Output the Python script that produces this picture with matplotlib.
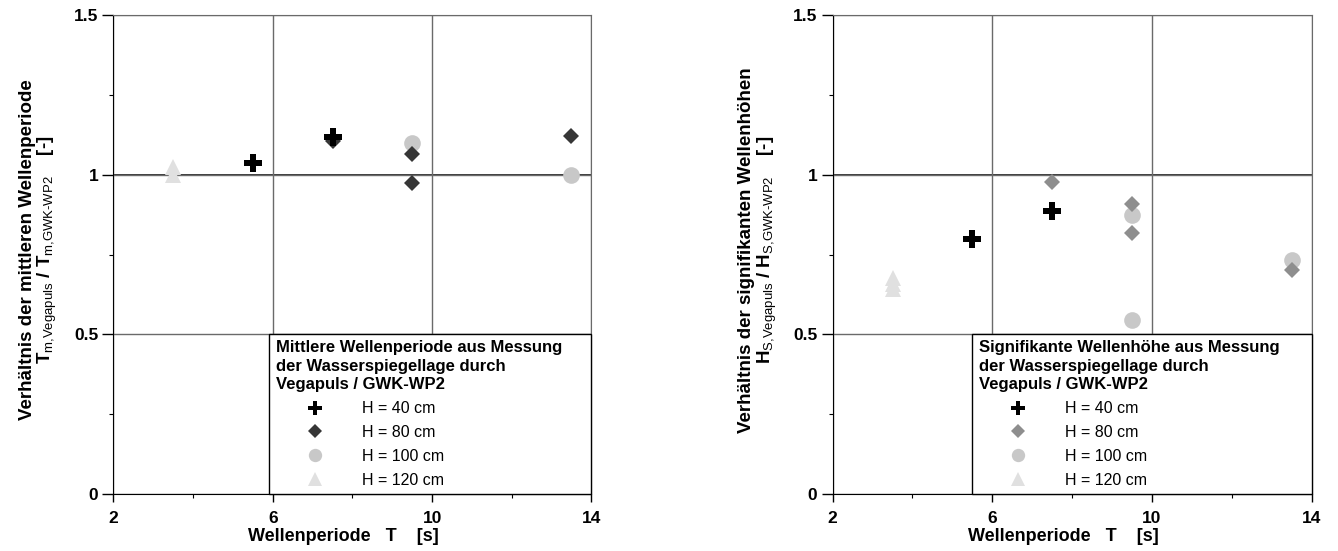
import matplotlib
matplotlib.use("Agg")
import matplotlib.pyplot as plt
from matplotlib.ticker import FixedLocator, FuncFormatter

plt.rcParams['font.family'] = ['Liberation Sans', 'DejaVu Sans']
plt.rcParams['mathtext.fontset'] = 'custom'
plt.rcParams['mathtext.rm'] = 'Liberation Sans'
plt.rcParams['mathtext.bf'] = 'Liberation Sans:bold'
plt.rcParams['mathtext.it'] = 'Liberation Sans:italic'

# ---------------- data ----------------
series_labels = ["H = 40 cm", "H = 80 cm", "H = 100 cm", "H = 120 cm"]

# left: mean wave period ratio
tm_h40_T = [5.5, 7.5]
tm_h40_r = [1.035, 1.118]
tm_h80_T = [7.5, 9.5, 9.5, 13.5]
tm_h80_r = [1.104, 1.066, 0.974, 1.122]
tm_h100_T = [9.5, 13.5]
tm_h100_r = [1.099, 0.998]
tm_h120_T = [3.5, 3.5]
tm_h120_r = [1.0, 1.025]

# right: significant wave height ratio
hs_h40_T = [5.5, 7.5]
hs_h40_r = [0.799, 0.887]
hs_h80_T = [7.5, 9.5, 9.5, 13.5]
hs_h80_r = [0.978, 0.908, 0.816, 0.703]
hs_h100_T = [9.5, 9.5, 13.5]
hs_h100_r = [0.875, 0.544, 0.734]
hs_h120_T = [3.5, 3.5, 3.5]
hs_h120_r = [0.641, 0.659, 0.677]

x_major = [2, 6, 10, 14]
x_minor = [4, 8, 12]
y_major = [0, 0.5, 1, 1.5]
y_minor = [0.25, 0.75, 1.25]

fig = plt.figure(figsize=(13.38, 5.51), dpi=100)
axL = fig.add_axes([0.0848, 0.1034, 0.3572, 0.8694])
axR = fig.add_axes([0.6223, 0.1034, 0.3580, 0.8694])

GRID = '#6a6a6a'


def style(ax, ylabel, title, legend_x0, dia_color, data):
    (t40, r40), (t80, r80), (t100, r100), (t120, r120) = data
    ax.set_xlim(2, 14)
    ax.set_ylim(0, 1.5)
    ax.xaxis.set_major_locator(FixedLocator(x_major))
    ax.xaxis.set_minor_locator(FixedLocator(x_minor))
    ax.yaxis.set_major_locator(FixedLocator(y_major))
    ax.yaxis.set_minor_locator(FixedLocator(y_minor))
    ax.yaxis.set_major_formatter(FuncFormatter(lambda v, p: f"{v:g}"))
    ax.xaxis.set_major_formatter(FuncFormatter(lambda v, p: f"{v:g}"))
    ax.tick_params(axis='both', which='major', direction='out', labelsize=12.5,
                   width=1.0, color='black')
    ax.tick_params(axis='x', which='major', length=6, pad=6.5)
    ax.tick_params(axis='y', which='major', length=8, pad=3)
    ax.tick_params(axis='both', which='minor', direction='out', length=3,
                   width=0.8, color='black')
    for lab in ax.get_xticklabels() + ax.get_yticklabels():
        lab.set_fontweight('bold')
    ax.grid(True, which='major', color=GRID, linewidth=1.0, zorder=0)
    ax.axhline(1.0, color='black', linewidth=1.1, zorder=0.5)
    for s in ['top', 'right']:
        ax.spines[s].set_color(GRID)
    ax.spines['left'].set_color('black')
    ax.spines['bottom'].set_color('black')
    ax.set_axisbelow(True)

    h1, = ax.plot(t40, r40, linestyle='none', marker='P', ms=12.5,
                  mfc='black', mec='black', mew=0, zorder=5)
    h2, = ax.plot(t80, r80, linestyle='none', marker='D', ms=8.6,
                  mfc=dia_color, mec=dia_color, mew=0, zorder=4)
    h3, = ax.plot(t100, r100, linestyle='none', marker='o', ms=12,
                  mfc='#c8c8c8', mec='#c8c8c8', mew=0, zorder=3)
    h4, = ax.plot(t120, r120, linestyle='none', marker='^', ms=12,
                  mfc='#e0e0e0', mec='#e0e0e0', mew=0, zorder=3)

    ax.set_xlabel("Wellenperiode   T    [s]", fontsize=13, fontweight='bold')
    ax.xaxis.set_label_coords(0.482, -0.070)
    ax.set_ylabel(ylabel, fontsize=13.5, fontweight='bold', linespacing=1.0)
    ax.yaxis.set_label_coords(-0.113, 0.51)

    leg = ax.legend([h1, h2, h3, h4], series_labels, title=title,
                    loc='lower left', bbox_to_anchor=(legend_x0, 0.0, 1 - legend_x0, 0.34),
                    mode='expand', alignment='left', frameon=True, fancybox=False,
                    framealpha=1, edgecolor='black', borderaxespad=0,
                    borderpad=0.4, handlelength=4.95, handletextpad=0.45,
                    labelspacing=0.55, markerscale=0.8, prop={'size': 11.5},
                    title_fontproperties={'weight': 'bold', 'size': 12})
    leg.get_frame().set_linewidth(1.0)
    leg.get_title().set_linespacing(1.3)
    leg.set_zorder(10)


style(axL,
      "Verhältnis der mittleren Wellenperiode\n"
      r"T$_{\mathrm{m{,}Vegapuls}}$ / T$_{\mathrm{m{,}GWK\text{-}WP2}}$    [-]",
      "Mittlere Wellenperiode aus Messung\nder Wasserspiegellage durch\nVegapuls / GWK-WP2",
      0.326, '#363636',
      [(tm_h40_T, tm_h40_r), (tm_h80_T, tm_h80_r), (tm_h100_T, tm_h100_r), (tm_h120_T, tm_h120_r)])

style(axR,
      "Verhältnis der signifikanten Wellenhöhen\n"
      r"H$_{\mathrm{S{,}Vegapuls}}$ / H$_{\mathrm{S{,}GWK\text{-}WP2}}$    [-]",
      "Signifikante Wellenhöhe aus Messung\nder Wasserspiegellage durch\nVegapuls / GWK-WP2",
      0.2917, '#8e8e8e',
      [(hs_h40_T, hs_h40_r), (hs_h80_T, hs_h80_r), (hs_h100_T, hs_h100_r), (hs_h120_T, hs_h120_r)])

fig.savefig("out.png", dpi=100)
